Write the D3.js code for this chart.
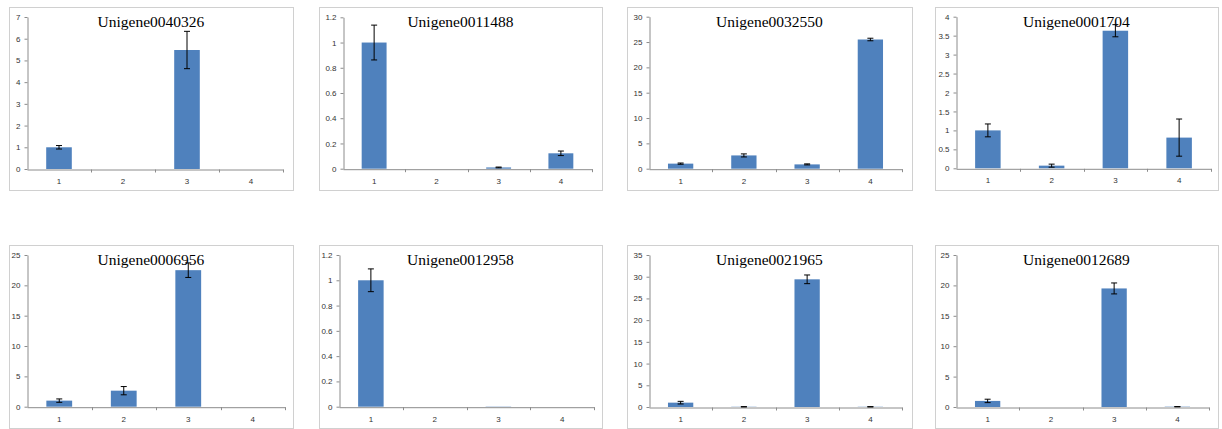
<!DOCTYPE html>
<html>
<head>
<meta charset="utf-8">
<script src="https://cdn.jsdelivr.net/npm/d3@7"></script>
<style>
  html, body { margin: 0; padding: 0; background: #fff; }
  svg { display: block; }
</style>
</head>
<body>
<svg id="chart" width="1222" height="429"></svg>
<script>
// ---------------- data ----------------
const categories = ["1", "2", "3", "4"];
const genes = ["Unigene0040326", "Unigene0011488", "Unigene0032550", "Unigene0001704",
               "Unigene0006956", "Unigene0012958", "Unigene0021965", "Unigene0012689"];
const means = [
  [1.0, 0, 5.48, 0],
  [1.0, 0, 0.01, 0.122],
  [1.0, 2.62, 0.85, 25.5],
  [1.0, 0.07, 3.63, 0.81],
  [1.0, 2.64, 22.5, 0],
  [1.0, 0, 0.002, 0],
  [1.0, 0.05, 29.4, 0.05],
  [1.0, 0, 19.5, 0.05]
];
const errors = [
  [0.08, 0, 0.86, 0],
  [0.138, 0, 0.003, 0.018],
  [0.12, 0.3, 0.1, 0.25],
  [0.17, 0.04, 0.16, 0.49],
  [0.28, 0.68, 1.2, 0],
  [0.09, 0, 0, 0],
  [0.3, 0.03, 1.0, 0.03],
  [0.28, 0, 0.9, 0.02]
];
const yMax = [7, 1.2, 30, 4, 25, 1.2, 35, 25];
const yStep = [1, 0.2, 5, 0.5, 5, 0.2, 5, 5];

// ---------------- layout ----------------
const layout = [
  {fx: 9,   fy: 7,   fx2: 293,  fy2: 190, x0: 27,  x1: 283,  yT: 17,   yZ: 169},
  {fx: 319, fy: 7,   fx2: 602,  fy2: 190, x0: 343, x1: 592,  yT: 17.3, yZ: 168.7},
  {fx: 627, fy: 7,   fx2: 912,  fy2: 190, x0: 649, x1: 902,  yT: 16.7, yZ: 168.7},
  {fx: 935, fy: 7,   fx2: 1218, fy2: 190, x0: 956, x1: 1211, yT: 16.7, yZ: 168.3},
  {fx: 9,   fy: 245, fx2: 293,  fy2: 428, x0: 27,  x1: 285,  yT: 255,  yZ: 406.7},
  {fx: 319, fy: 245, fx2: 602,  fy2: 428, x0: 339, x1: 594,  yT: 255,  yZ: 406.7},
  {fx: 627, fy: 245, fx2: 912,  fy2: 428, x0: 649, x1: 902,  yT: 255,  yZ: 407},
  {fx: 935, fy: 245, fx2: 1218, fy2: 428, x0: 956, x1: 1209, yT: 255,  yZ: 407}
];

const svg = d3.select("#chart");
const fmt = d => String(+d.toFixed(2));
const axisColor = "#8c8c8c";
const labelFont = "'Liberation Sans', Arial, sans-serif";

genes.forEach((gene, p) => {
  const L = layout[p];
  const g = svg.append("g");

  // frame
  g.append("rect")
    .attr("x", L.fx + 0.5).attr("y", L.fy + 0.5)
    .attr("width", L.fx2 - L.fx).attr("height", L.fy2 - L.fy)
    .attr("fill", "#fff").attr("stroke", "#d0d0d0").attr("stroke-width", 1);

  const x = d3.scaleBand().domain(categories).range([L.x0, L.x1])
    .paddingInner(0.6).paddingOuter(0.3);
  const y = d3.scaleLinear().domain([0, yMax[p]]).range([L.yZ, L.yT]);
  const step = x.step();

  // y axis
  const ticks = d3.range(0, yMax[p] + yStep[p] / 2, yStep[p]);
  const ya = g.append("g").attr("transform", `translate(${L.x0 + 0.5},0)`)
    .call(d3.axisLeft(y).tickValues(ticks).tickFormat(fmt).tickSize(3).tickSizeOuter(0).tickPadding(4));
  ya.select(".domain").attr("stroke", axisColor);
  ya.selectAll(".tick line").attr("stroke", axisColor);
  ya.selectAll(".tick text").attr("fill", "#333").style("font-family", labelFont).style("font-size", "8px");

  // bars
  g.selectAll("rect.bar").data(categories).enter().append("rect")
    .attr("class", "bar")
    .attr("x", c => x(c))
    .attr("width", x.bandwidth())
    .attr("y", (c, i) => y(means[p][i]))
    .attr("height", (c, i) => Math.max(0, y(0) - y(means[p][i])))
    .attr("fill", "#4f81bd");

  // x axis
  const xa = g.append("g").attr("transform", `translate(0,${L.yZ + 0.5})`)
    .call(d3.axisBottom(x).tickSize(0).tickSizeOuter(0).tickPadding(9));
  xa.select(".domain").attr("stroke", axisColor);
  xa.selectAll(".tick text").attr("fill", "#333").style("font-family", labelFont).style("font-size", "8px");
  // category boundary ticks
  const bounds = categories.map(c => x(c) - step * x.paddingInner() / 2).slice(1)
    .concat([x.range()[1]]);
  xa.selectAll("line.bt").data(bounds).enter().append("line")
    .attr("class", "bt")
    .attr("x1", d => Math.round(d) + 0.5).attr("x2", d => Math.round(d) + 0.5)
    .attr("y1", 0).attr("y2", 3)
    .attr("stroke", axisColor);

  // error bars
  const eb = g.selectAll("g.err").data(categories).enter().append("g").attr("class", "err");
  eb.each(function (c, i) {
    const e = errors[p][i];
    if (e <= 0) return;
    const cx = x(c) + x.bandwidth() / 2;
    const yt = y(means[p][i] + e), yb = y(Math.max(0, means[p][i] - e));
    const s = d3.select(this);
    s.append("line").attr("x1", cx).attr("x2", cx).attr("y1", yt).attr("y2", yb)
      .attr("stroke", "#000").attr("stroke-width", 1);
    [yt, yb].forEach(yy => s.append("line")
      .attr("x1", cx - 3).attr("x2", cx + 3).attr("y1", yy).attr("y2", yy)
      .attr("stroke", "#000").attr("stroke-width", 1));
  });

  // title
  g.append("text")
    .attr("x", (L.fx + L.fx2) / 2)
    .attr("y", L.fy + 20)
    .attr("text-anchor", "middle")
    .style("font-family", "'Liberation Serif', 'Times New Roman', serif")
    .style("font-size", "15.5px")
    .attr("fill", "#000")
    .text(gene);
});
</script>
</body>
</html>
